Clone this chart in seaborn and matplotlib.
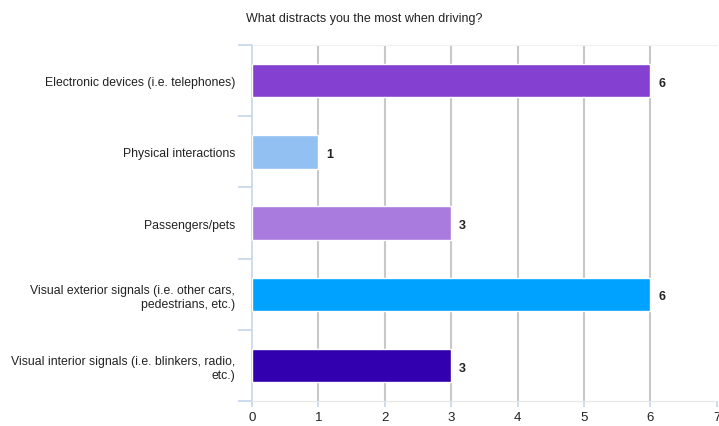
import numpy as np
import pandas as pd
import matplotlib.pyplot as plt
import seaborn as sns

categories = ['Electronic devices (i.e. telephones)',
              'Physical interactions',
              'Passengers/pets',
              'Visual exterior signals (i.e. other cars,\npedestrians, etc.)',
              'Visual interior signals (i.e. blinkers, radio,\netc.)']
counts = [6, 1, 3, 6, 3]
colors = ['#8440d0', '#93c0f2', '#aa7bde', '#00a2ff', '#3300b0']

df = pd.DataFrame({'answer': categories, 'count': counts})

sns.set_style('white')
plt.rcParams['font.family'] = ['Liberation Sans', 'DejaVu Sans']

fig = plt.figure(figsize=(7.19, 4.27), dpi=100)
ax = fig.add_axes([0.3505, 0.0585, 0.6465, 0.8335])

sns.barplot(data=df, y='answer', x='count', hue='answer', palette=colors,
            orient='h', width=0.47, saturation=1, legend=False, ax=ax, zorder=3)

ax.set_xlim(0, 7)
ax.set_ylim(4.5, -0.5)
ax.set_xticks(range(8))
ax.grid(axis='x', color='#c8c8c8', linewidth=1.5, zorder=0)
ax.set_axisbelow(True)
gl = ax.get_xgridlines()
gl[0].set_visible(False)
gl[-1].set_visible(False)

for i, v in enumerate(counts):
    ax.text(v + 0.12, i + 0.03, str(v), va='center', ha='left', fontsize=9, fontweight='bold', color='#222222')

ax.set_xlabel('')
ax.set_ylabel('')
ax.tick_params(axis='y', which='major', left=False, length=0, labelsize=8.85, pad=12, labelcolor='#222222')
ax.set_yticks(np.arange(-0.5, 5, 1), minor=True)
ax.tick_params(axis='y', which='minor', left=True, length=10, width=1.2, color='#c5d6ea', direction='out')
ax.tick_params(axis='x', bottom=True, length=4, width=1.2, color='#c5d6ea', labelsize=9.5, labelcolor='#222222', pad=3)
for lab in ax.get_yticklabels():
    lab.set_multialignment('right')

ax.spines['right'].set_visible(False)
ax.spines['left'].set_color('#c5d6ea')
ax.spines['left'].set_linewidth(1.2)
ax.spines['top'].set_color('#f0f0f0')
ax.spines['bottom'].set_color('#e6e6e6')

fig.text(0.506, 0.955, 'What distracts you the most when driving?', ha='center', va='center',
         fontsize=9, color='#222222')

fig.savefig('out.png', dpi=100)
